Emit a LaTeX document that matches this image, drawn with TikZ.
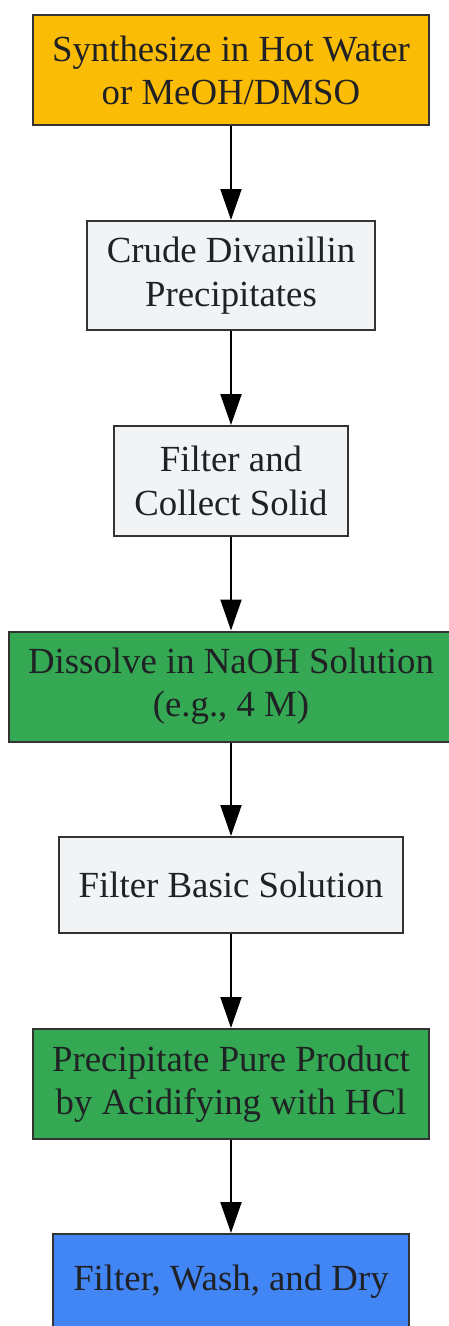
\documentclass[tikz,border=0pt]{standalone}
\usepackage{fontspec}
\setmainfont{Liberation Serif}
\usetikzlibrary{arrows.meta}
\definecolor{txt}{HTML}{202124}
\definecolor{bord}{HTML}{333333}
\definecolor{cOrange}{HTML}{FBBC05}
\definecolor{cGray}{HTML}{F1F3F4}
\definecolor{cGreen}{HTML}{34A853}
\definecolor{cBlue}{HTML}{4285F4}
\tikzset{
  stepbox/.style={draw=bord, line width=2pt, rectangle, align=center, text=txt,
    font=\fontsize{36.8pt}{43.3pt}\selectfont, inner sep=0pt},
  flow/.style={draw=black, line width=2pt, -{Triangle[width=21pt,length=31pt]}}
}
\begin{document}
\begin{tikzpicture}[x=1pt,y=-1pt]
\useasboundingbox (0,0) rectangle (449,1326);
\clip (0,0) rectangle (449,1326);
\node[stepbox, fill=cOrange, minimum width=396pt, minimum height=110pt] (a) at (231,70.25) {Synthesize in Hot Water\\or MeOH/DMSO};
\node[stepbox, fill=cGray, minimum width=288pt, minimum height=109pt] (b) at (231,275.5) {Crude Divanillin\\Precipitates};
\node[stepbox, fill=cGray, minimum width=234pt, minimum height=110pt] (c) at (231,481) {Filter and\\Collect Solid};
\node[stepbox, fill=cGreen, minimum width=444pt, minimum height=110pt] (d) at (231,686.5) {Dissolve in NaOH Solution\\(e.g., 4 M)};
\node[stepbox, fill=cGray, minimum width=344pt, minimum height=96pt] (e) at (231,885) {Filter Basic Solution};
\node[stepbox, fill=cGreen, minimum width=396pt, minimum height=110pt] (f) at (231,1084) {Precipitate Pure Product\\by Acidifying with HCl};
\node[stepbox, fill=cBlue, minimum width=356pt, minimum height=96pt] (g) at (231,1282) {Filter, Wash, and Dry};
\draw[flow] (a.south) -- (b.north);
\draw[flow] (b.south) -- (c.north);
\draw[flow] (c.south) -- (d.north);
\draw[flow] (d.south) -- (e.north);
\draw[flow] (e.south) -- (f.north);
\draw[flow] (f.south) -- (g.north);
\end{tikzpicture}
\end{document}
